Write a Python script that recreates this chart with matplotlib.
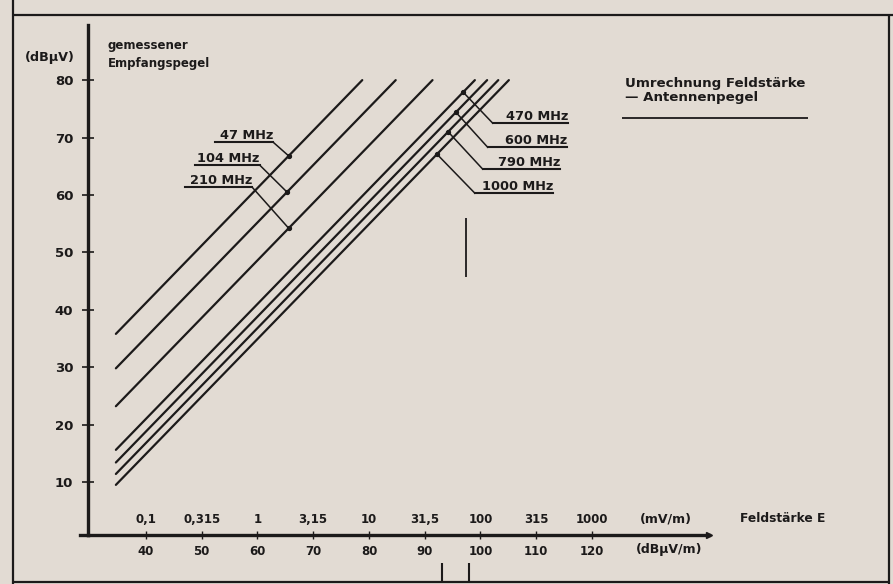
"""
Umrechnung Feldstärke -> Antennenpegel (Nachbau eines gescannten Diagramms).
Speichert out.png (893x584 px).
"""

import matplotlib
matplotlib.use("Agg")
import matplotlib.pyplot as plt
from matplotlib.lines import Line2D

# ---------------- Daten ----------------
# Frequenzen und Umrechnungsmaß k = E(dBµV/m) - U(dBµV)
frequenzen = [47, 104, 210, 470, 600, 790, 1000]
umrechnung_db = [-1.2, 4.8, 11.4, 19.0, 21.2, 23.2, 25.1]
e_start = 34.6    # Beginn der Geraden (dBµV/m)
pegel_max = 80    # Ende der Geraden (dBµV)

feldstaerke_dbuv = [40, 50, 60, 70, 80, 90, 100, 110, 120]
feldstaerke_mv = ["0,1", "0,315", "1", "3,15", "10", "31,5", "100", "315", "1000"]
pegel_ticks = [10, 20, 30, 40, 50, 60, 70, 80]

# Beschriftungen: (E links, E rechts, U der Unterstreichung, E des Punktes, Seite)
beschriftung = {
    47: (52.4, 62.8, 69.2, 65.6, "links"),
    104: (48.8, 60.4, 65.2, 65.3, "links"),
    210: (47.0, 59.0, 61.4, 65.6, "links"),
    470: (102.2, 115.7, 72.5, 96.9, "rechts"),
    600: (101.3, 115.5, 68.3, 95.6, "rechts"),
    790: (100.4, 114.3, 64.5, 94.2, "rechts"),
    1000: (99.0, 113.0, 60.3, 92.2, "rechts"),
}

W, H = 893, 584
PAPIER = "#e2dbd3"
TINTE = "#1c1a1a"

plt.rcParams["font.family"] = ["DejaVu Sans"]
plt.rcParams["font.weight"] = "bold"
plt.rcParams["text.color"] = TINTE


def fxy(x, y):
    """Pixel (von oben links) -> Figurkoordinaten."""
    return x / W, 1 - y / H


def strich(x0, y0, x1, y1, lw=1.6):
    fig.add_artist(Line2D([x0 / W, x1 / W], [1 - y0 / H, 1 - y1 / H],
                          color=TINTE, lw=lw, solid_capstyle="butt"))


fig = plt.figure(figsize=(W / 100, H / 100), dpi=100, facecolor=PAPIER)
ax = fig.add_axes([88 / W, 1 - 535 / H, (709 - 88) / W, (535 - 25) / H])
ax.set_facecolor("none")
ax.set_xlim(29.6, 141.0)
ax.set_ylim(0.77, 89.6)

# Geraden je Frequenz
for f, k in zip(frequenzen, umrechnung_db):
    ax.plot([e_start, pegel_max + k], [e_start - k, pegel_max],
            color=TINTE, lw=1.6, solid_capstyle="round")

# Beschriftungen mit Unterstreichung und Hinweislinie
for f, k in zip(frequenzen, umrechnung_db):
    e_li, e_re, u, e_pkt, seite = beschriftung[f]
    u_pkt = e_pkt - k
    ax.plot([e_li, e_re], [u, u], color=TINTE, lw=1.5)
    e_anf = e_re if seite == "links" else e_li
    ax.plot([e_anf, e_pkt], [u, u_pkt], color=TINTE, lw=1.1)
    ax.plot(e_pkt, u_pkt, "o", color=TINTE, ms=2.8)
    ax.text(e_re, u + 0.5, f"{f} MHz", ha="right", va="baseline", fontsize=9.3)

# Achsen
for s in ["top", "right"]:
    ax.spines[s].set_visible(False)
ax.spines["left"].set_linewidth(2.4)
ax.spines["bottom"].set_linewidth(2.4)
ax.spines["left"].set_color(TINTE)
ax.spines["bottom"].set_color(TINTE)
ax.plot([-0.013, 0], [0, 0], color=TINTE, lw=2.4, transform=ax.transAxes, clip_on=False)
ax.plot(1, 0, ">", color=TINTE, ms=5, transform=ax.transAxes, clip_on=False)

ax.set_yticks(pegel_ticks)
ax.tick_params(axis="y", direction="inout", length=8, width=1.2, pad=6.5,
               labelsize=9.5, colors=TINTE)
ax.set_xticks(feldstaerke_dbuv)
ax.set_xticklabels([str(v) for v in feldstaerke_dbuv])
ax.tick_params(axis="x", direction="inout", length=6, width=1.0, pad=4,
               labelsize=8.5, colors=TINTE)

# obere Skala in mV/m
for e, lbl in zip(feldstaerke_dbuv, feldstaerke_mv):
    ax.annotate(lbl, xy=(e, 0), xycoords=("data", "axes fraction"),
                xytext=(0, 11.5), textcoords="offset points",
                ha="center", va="center", fontsize=8.5)

# Texte
fig.text(*fxy(75, 57), "(dBµV)", ha="right", va="center", fontsize=9.2)
fig.text(*fxy(108, 46), "gemessener", ha="left", va="center", fontsize=8.5)
fig.text(*fxy(108, 63), "Empfangspegel", ha="left", va="center", fontsize=8.5)
fig.text(*fxy(625, 83), "Umrechnung Feldstärke", ha="left", va="center", fontsize=9.6)
fig.text(*fxy(625, 98), "— Antennenpegel", ha="left", va="center", fontsize=9.6)
strich(622, 118, 808, 118, lw=1.3)
fig.text(*fxy(640, 519), "(mV/m)", ha="left", va="center", fontsize=9)
fig.text(*fxy(740, 519), "Feldstärke E", ha="left", va="center", fontsize=8.8)
fig.text(*fxy(636, 549), "(dBµV/m)", ha="left", va="center", fontsize=9)

# Rahmen und Marken aus der Vorlage
strich(13, 0, 13, 584)
strich(13, 15, 893, 15)
strich(889, 15, 889, 584)
strich(13, 582, 889, 582)
strich(466, 218, 466, 277, lw=1.3)
strich(442, 563, 442, 582, lw=1.5)
strich(469, 563, 469, 582, lw=1.5)

fig.savefig("out.png", dpi=100, facecolor=PAPIER)
